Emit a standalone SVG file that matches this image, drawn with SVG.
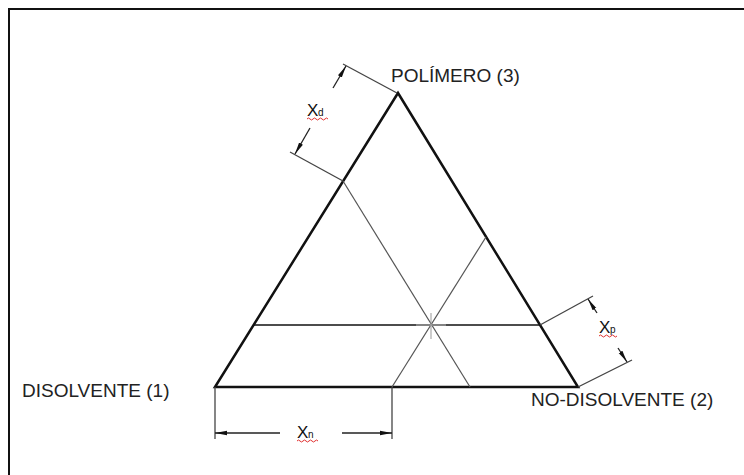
<svg xmlns="http://www.w3.org/2000/svg" width="744" height="475" viewBox="0 0 744 475">
<defs>
<style>
.lbl{font-family:"Liberation Sans",Arial,sans-serif;font-size:19px;fill:#222}
.dimx{font-family:"Liberation Sans",Arial,sans-serif;font-size:17px;fill:#111}
.sub{font-family:"Liberation Sans",Arial,sans-serif;font-size:10px;fill:#111}
.edge{stroke:#111;stroke-width:2.5;fill:none;stroke-linecap:round}
.inner{stroke:#555;stroke-width:1.2;fill:none}
.ext{stroke:#444;stroke-width:1.3;fill:none}
.dim{stroke:#222;stroke-width:1.3;fill:none}
.sq{stroke:#e03030;stroke-width:1;fill:none}
</style>
<marker id="ah" viewBox="0 0 12 6" refX="12" refY="3" markerWidth="12" markerHeight="6" markerUnits="userSpaceOnUse" orient="auto">
<path d="M0,0.8 L12,3 L0,5.2 Z" fill="#111"/>
</marker>
</defs>
<rect x="9" y="9" width="760" height="500" fill="#fff" stroke="#111" stroke-width="2"/>
<g id="triangle">
<path class="edge" d="M215,387 L398,93 L578,387 Z"/>
</g>
<g id="gridlines">
<line x1="253.5" y1="325" x2="540" y2="325" stroke="#111" stroke-width="1.4"/>
<line class="inner" x1="343" y1="181" x2="470" y2="387"/>
<line class="inner" x1="392" y1="387" x2="486" y2="237"/>
<line x1="431" y1="313" x2="431" y2="339" stroke="#999" stroke-width="1"/>
<line x1="416" y1="325" x2="446" y2="325" stroke="#bbb" stroke-width="1"/>
</g>
<g id="labels">
<text class="lbl" x="391" y="82">POLÍMERO (3)</text>
<text class="lbl" x="22" y="397">DISOLVENTE (1)</text>
<text class="lbl" x="531" y="406">NO-DISOLVENTE (2)</text>
</g>
<g id="connectors">
<g id="dim-xd">
<line class="ext" x1="343" y1="64" x2="397" y2="93"/>
<line class="ext" x1="290" y1="152" x2="343" y2="181"/>
<line class="dim" x1="333" y1="88" x2="346" y2="66" marker-end="url(#ah)"/>
<line class="dim" x1="310" y1="128" x2="295" y2="154" marker-end="url(#ah)"/>
<text class="dimx" x="307" y="116">X</text><text class="sub" x="318" y="116">d</text>
<path class="sq" d="M307,119 q1.5,-2 3,0 t3,0 t3,0 t3,0 t3,0 t3,0 t3,0"/>
</g>
<g id="dim-xp">
<line class="ext" x1="540" y1="325" x2="593" y2="296"/>
<line class="ext" x1="578" y1="387" x2="632" y2="360"/>
<line class="dim" x1="597" y1="313" x2="588" y2="299" marker-end="url(#ah)"/>
<line class="dim" x1="618" y1="348" x2="627" y2="362" marker-end="url(#ah)"/>
<text class="dimx" x="599" y="333">X</text><text class="sub" x="610" y="333">p</text>
<path class="sq" d="M599,336 q1.5,-2 3,0 t3,0 t3,0 t3,0 t3,0 t3,0"/>
</g>
<g id="dim-xn">
<line class="ext" x1="215" y1="387" x2="215" y2="439"/>
<line class="ext" x1="392" y1="387" x2="392" y2="439"/>
<line class="dim" x1="280" y1="433" x2="215" y2="433" marker-end="url(#ah)"/>
<line class="dim" x1="342" y1="433" x2="392" y2="433" marker-end="url(#ah)"/>
<text class="dimx" x="297" y="438">X</text><text class="sub" x="308" y="438">n</text>
<path class="sq" d="M297,441 q1.5,-2 3,0 t3,0 t3,0 t3,0 t3,0 t3,0 t3,0"/>
</g>
</g>
</svg>
